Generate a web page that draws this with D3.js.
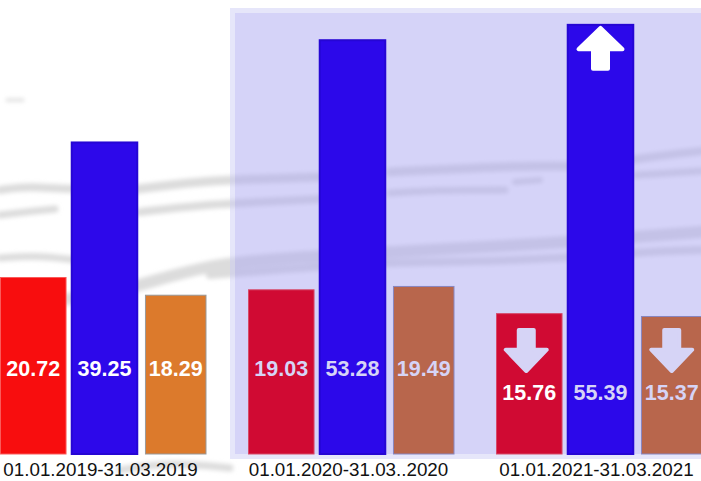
<!DOCTYPE html>
<html>
<head>
<meta charset="utf-8">
<script src="https://cdn.jsdelivr.net/npm/d3@7"></script>
<style>
  body { margin: 0; background: #fff; }
  svg { display: block; }
  text { font-family: "Liberation Sans", Arial, Helvetica, sans-serif; }
</style>
</head>
<body>
<div id="chart"></div>
<script>
// Data
var periods = ["01.01.2019-31.03.2019", "01.01.2020-31.03..2020", "01.01.2021-31.03.2021"];
var seriesKeys = ["red", "blue", "orange"];
var redValues = [20.72, 19.03, 15.76];
var blueValues = [39.25, 53.28, 55.39];
var orangeValues = [18.29, 19.49, 15.37];
// trend arrows shown in the last period
var redTrend = ["", "", "down"];
var blueTrend = ["", "", "up"];
var orangeTrend = ["", "", "down"];

var width = 701, height = 481;
var baseline = 454;

// first period is plain, the others sit on the highlighted panel
var colors = {
    red: ["#f80d0e", "#d00a33"],
    blue: ["#2d08ea", "#2c08ea"],
    orange: ["#dc7a2c", "#b8664c"]
};
var borders = {
    red: ["#fa5a5a", "#d64a6a"],
    blue: ["#2606d4", "#2606d4"],
    orange: ["#999999", "#8886c0"]
};
var lavender = "#d6d4f6";

var rows = [];
periods.forEach(function (p, i) {
    rows.push({period: p, i: i, key: "red", value: redValues[i], trend: redTrend[i]});
    rows.push({period: p, i: i, key: "blue", value: blueValues[i], trend: blueTrend[i]});
    rows.push({period: p, i: i, key: "orange", value: orangeValues[i], trend: orangeTrend[i]});
});

// Scales
var x0 = d3.scaleBand().domain(periods).range([0.5, 744.5]);
var x1 = d3.scaleBand().domain(seriesKeys).range([0, 208]).paddingInner(0.08);
var yScale = d3.scaleLinear().domain([-3.5, 58.8]).range([baseline, 0]);

var svg = d3.select("#chart").append("svg")
    .attr("width", width)
    .attr("height", height);

svg.append("rect").attr("width", width).attr("height", height).attr("fill", "#fff");

// faint sketchy background strokes
var defs = svg.append("defs");
defs.append("filter").attr("id", "blur")
    .attr("x", "-10%").attr("y", "-50%").attr("width", "120%").attr("height", "200%")
    .append("feGaussianBlur").attr("stdDeviation", 2.2);

var strokes = [
    {w: 8, pts: [[0, 190], [30, 186], [70, 190], [110, 186]]},
    {w: 7, pts: [[0, 215], [25, 212], [55, 209]]},
    {w: 9, pts: [[130, 190], [200, 181], [260, 179], [320, 177]]},
    {w: 8, pts: [[140, 212], [200, 205], [260, 202], [320, 199]]},
    {w: 9, pts: [[390, 172], [470, 168], [560, 165], [620, 168]]},
    {w: 7, pts: [[390, 193], [440, 190], [505, 190]]},
    {w: 6, pts: [[515, 182], [540, 180]]},
    {w: 8, pts: [[630, 160], [665, 155], [701, 151]]},
    {w: 7, pts: [[636, 175], [670, 173], [701, 171]]},
    {w: 12, pts: [[60, 300], [130, 290], [210, 262], [330, 256], [460, 248], [560, 243], [701, 232]]},
    {w: 8, pts: [[210, 275], [300, 268], [380, 262], [470, 262], [560, 258], [640, 252], [701, 250]]},
    {w: 7, pts: [[0, 258], [40, 255], [90, 262]]},
    {w: 3, pts: [[7, 100], [23, 100]]},
    {w: 7, pts: [[120, 470], [170, 462], [230, 468]]}
];
var strokeLine = d3.line().curve(d3.curveBasis);
svg.append("g").attr("filter", "url(#blur)")
    .selectAll("path").data(strokes).join("path")
    .attr("d", function (d) { return strokeLine(d.pts); })
    .attr("fill", "none")
    .attr("stroke", "#dcdcdc")
    .attr("stroke-width", function (d) { return d.w; })
    .attr("stroke-linecap", "round");

// highlight panel behind the 2020 and 2021 groups
var px = 230, py = 8, pb = 5;
svg.append("path")
    .attr("d", "M" + px + "," + py + "H" + (width + 10) + "V" + (baseline + pb) + "H" + px + "Z" +
        "M" + (px + pb) + "," + (py + pb) + "V" + baseline + "H" + (width + 10) + "V" + (py + pb) + "Z")
    .attr("fill-rule", "evenodd")
    .attr("fill", "#c8c8f4")
    .attr("fill-opacity", 0.45);
svg.append("rect")
    .attr("x", px + pb).attr("y", py + pb)
    .attr("width", width + 10 - px - pb).attr("height", baseline - py - pb)
    .attr("fill", "#aba7f1")
    .attr("fill-opacity", 0.5);

function barX(d) {
    var inset = d.key === "orange" ? 2.5 : 0;
    return x0(d.period) + x1(d.key) + inset;
}
function barW(d) {
    return x1.bandwidth() - (d.key === "orange" ? 5 : 0);
}
function cx(d) { return x0(d.period) + x1(d.key) + x1.bandwidth() / 2; }

// Bars
svg.append("g").selectAll("rect").data(rows).join("rect")
    .attr("x", barX)
    .attr("y", function (d) { return yScale(d.value); })
    .attr("width", barW)
    .attr("height", function (d) { return baseline - yScale(d.value); })
    .attr("fill", function (d) { return colors[d.key][d.i > 0 ? 1 : 0]; })
    .attr("stroke", function (d) { return borders[d.key][d.i > 0 ? 1 : 0]; })
    .attr("stroke-width", function (d) { return d.key === "blue" ? 2 : 1; });

// Trend arrows
function arrowPath(dir, w, h) {
    var hw = w / 2, sw = 7.5, head = h * 0.52;
    var p = [[-sw, 0], [sw, 0], [sw, h - head], [hw, h - head], [0, h], [-hw, h - head], [-sw, h - head]];
    if (dir === "up") p = p.map(function (q) { return [q[0], h - q[1]]; });
    return "M" + p.map(function (q) { return q.join(","); }).join("L") + "Z";
}
var withArrow = rows.filter(function (d) { return d.trend; });
svg.append("g").selectAll("path").data(withArrow).join("path")
    .attr("transform", function (d) {
        var top = d.trend === "up" ? yScale(d.value) + 3 : 330;
        return "translate(" + (cx(d) - (d.key === "red" ? 3 : 0)) + "," + top + ")";
    })
    .attr("d", function (d) { return d.trend === "up" ? arrowPath("up", 44, 41) : arrowPath("down", 41, 41); })
    .attr("fill", function (d) { return d.trend === "up" ? "#fff" : lavender; })
    .attr("stroke", function (d) { return d.trend === "up" ? "#fff" : lavender; })
    .attr("stroke-width", 4)
    .attr("stroke-linejoin", "round");

// Value labels
svg.append("g").selectAll("text").data(rows).join("text")
    .attr("x", cx)
    .attr("y", function (d) { return d.i === 2 ? 400 : 376; })
    .attr("text-anchor", "middle")
    .attr("font-size", "21.5px")
    .attr("font-weight", "bold")
    .attr("fill", function (d) {
        if (d.i === 0 || (d.key === "red" && d.trend)) return "#fff";
        return lavender;
    })
    .text(function (d) { return d.value.toFixed(2); });

// Period labels
svg.append("g").selectAll("text").data(periods).join("text")
    .attr("x", function (p) { return x0(p) + 100; })
    .attr("y", 476)
    .attr("text-anchor", "middle")
    .attr("font-size", "18.8px")
    .attr("fill", "#111")
    .text(function (p) { return p; });
</script>
</body>
</html>
